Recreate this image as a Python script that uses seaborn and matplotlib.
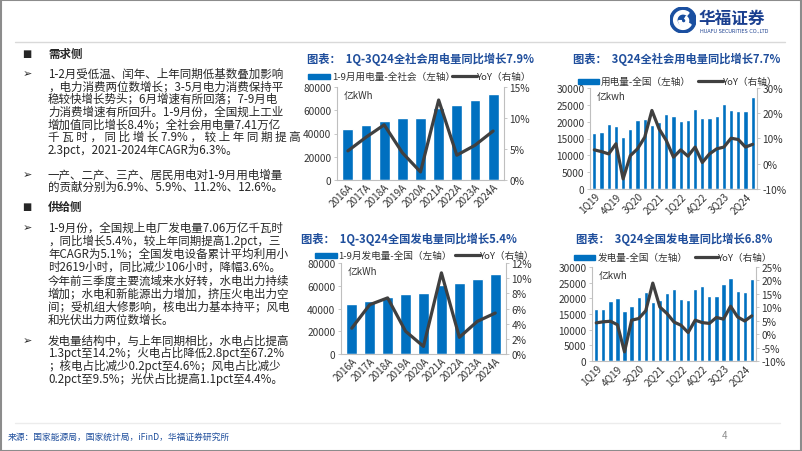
import numpy as np
import pandas as pd
import matplotlib
matplotlib.use("Agg")
import matplotlib.pyplot as plt
import seaborn as sns
from matplotlib.patches import Rectangle, Circle, Wedge
from matplotlib.lines import Line2D
from matplotlib.ticker import FuncFormatter

sns.set_style("white")
plt.rcParams['font.family'] = ['Noto Sans CJK SC', 'DejaVu Sans']
plt.rcParams['axes.unicode_minus'] = False

# ---------------- data ----------------
years = ['2016A', '2017A', '2018A', '2019A', '2020A', '2021A', '2022A', '2023A', '2024A']
cons_ytd = [43500, 46900, 50900, 53000, 53700, 61700, 64900, 68600, 74100]
cons_ytd_yoy = [4.7, 6.9, 8.9, 4.4, 1.3, 12.9, 4.0, 5.6, 7.9]
gen_ytd = [43800, 46800, 50300, 52700, 53800, 60300, 62600, 66200, 70600]
gen_ytd_yoy = [3.4, 6.5, 7.4, 3.0, 1.0, 10.7, 2.2, 4.3, 5.4]

quarters = ['1Q19', '2Q19', '3Q19', '4Q19', '1Q20', '2Q20', '3Q20', '4Q20',
            '1Q21', '2Q21', '3Q21', '4Q21', '1Q22', '2Q22', '3Q22', '4Q22',
            '1Q23', '2Q23', '3Q23', '4Q23', '1Q24', '2Q24', '3Q24']
cons_q = [16590, 16990, 19270, 18580, 15500, 17680, 20360, 20760,
          19070, 19870, 22150, 21650, 20160, 20360, 23740, 21160,
          20960, 21750, 25330, 23440, 23240, 23040, 27320]
cons_q_yoy = [5.5, 4.8, 3.9, 7.9, -6.0, 3.2, 5.9, 10.5,
              21.1, 13.8, 9.2, 2.6, 5.5, 3.0, 6.6, 0.5,
              3.9, 5.9, 6.6, 10.1, 9.6, 6.6, 7.7]
gen_q = [16650, 16750, 19190, 20150, 15800, 17710, 20470, 22060,
         18980, 19510, 21840, 23010, 19830, 19620, 23120, 23970,
         20680, 20890, 24500, 26620, 22380, 22060, 26190]
gen_q_yoy = [4.2, 4.6, 4.8, 3.5, -6.6, 5.2, 5.8, 8.7,
             19.0, 10.1, 7.7, 4.5, 3.3, 0.6, 5.2, 4.3,
             4.0, 6.2, 5.6, 10.4, 6.4, 4.9, 6.8]

titles = ['图表：  1Q-3Q24全社会用电量同比增长7.9%',
          '图表：  3Q24全社会用电量同比增长7.7%',
          '图表：  1Q-3Q24全国发电量同比增长5.4%',
          '图表：  3Q24全国发电量同比增长6.8%']
bar_labels = ['1-9月用电量-全社会（左轴）', '用电量-全国（左轴）',
              '1-9月发电量-全国（左轴）', '发电量-全国（左轴）']
line_label = 'YoY（右轴）'
units = ['亿kWh', '亿kwh', '亿kWh', '亿kwh']

# ---------------- figure ----------------
W, H = 802, 452
fig = plt.figure(figsize=(W / 100, H / 100), dpi=100)
fig.patch.set_facecolor('white')

def fx(x):
    return x / W

def fy(y):
    return 1 - y / H

BLUE = '#0070C0'
LINE = '#404040'
TITLE = '#1F4E9C'
TXT = '#262626'

# slide frame
fig.add_artist(Rectangle((0.001, 0.001), 0.998, 0.997, transform=fig.transFigure,
                         fill=False, edgecolor='#8c8c8c', linewidth=1.5))
# header separator & footer line
fig.add_artist(Line2D([fx(15), fx(785)], [fy(43), fy(43)], transform=fig.transFigure,
                      color='#d9d9d9', linewidth=1))
fig.add_artist(Line2D([fx(15), fx(780)], [fy(424), fy(424)], transform=fig.transFigure,
                      color='#ececec', linewidth=1))

# logo
logo_ax = fig.add_axes([fx(670), fy(34), fx(26), 26 / H])
logo_ax.set_xlim(-1, 1)
logo_ax.set_ylim(-1, 1)
logo_ax.set_aspect('equal')
logo_ax.axis('off')
logo_ax.add_patch(Circle((0, 0), 1.0, color='#1A4FA0'))
logo_ax.add_patch(Wedge((0, 0), 0.72, 50, 330, width=0.25, color='white'))
logo_ax.add_patch(Wedge((0.05, -0.05), 0.38, 180, 60, width=0.2, color='white'))
fig.text(fx(699), fy(19), '华福证券', fontsize=12, fontweight='bold', color='#1A3F8F',
         ha='left', va='center')
fig.text(fx(700), fy(31.5), 'HUAFU SECURITIES CO.,LTD', fontsize=3.6, color='#1A3F8F',
         ha='left', va='center', family='DejaVu Sans')

# ---------------- left text ----------------
FS = 8.3
TX = 48
def bullet(y, sym):
    fig.text(fx(27), fy(y), sym, fontsize=7 if sym == '■' else 8, color=TXT,
             ha='center', va='center', family='DejaVu Sans')

def line(y, s, bold=False):
    fig.text(fx(TX), fy(y), s, fontsize=FS, color=TXT, ha='left', va='center',
             fontweight='bold' if bold else 'normal')

bullet(54, '■'); line(54, '需求侧', bold=True)
bullet(74, '➢')
block1 = ['1-2月受低温、闰年、上年同期低基数叠加影响',
          '，电力消费两位数增长；3-5月电力消费保持平',
          '稳较快增长势头；6月增速有所回落；7-9月电',
          '力消费增速有所回升。1-9月份，全国规上工业',
          '增加值同比增长8.4%；全社会用电量7.41万亿',
          '千 瓦 时 ， 同 比 增 长 7.9% ， 较 上 年 同 期 提 高',
          '2.3pct，2021-2024年CAGR为6.3%。']
for i, s in enumerate(block1):
    line(74 + i * 12.7, s)
bullet(175, '➢')
line(175, '一产、二产、三产、居民用电对1-9月用电增量')
line(187.5, '的贡献分别为6.9%、5.9%、11.2%、12.6%。')
bullet(207, '■'); line(207, '供给侧', bold=True)
bullet(228, '➢')
block3 = ['1-9月份，全国规上电厂发电量7.06万亿千瓦时',
          '，同比增长5.4%，较上年同期提高1.2pct，三',
          '年CAGR为5.1%；全国发电设备累计平均利用小',
          '时2619小时，同比减少106小时，降幅3.6%。',
          '今年前三季度主要流域来水好转，水电出力持续',
          '增加；水电和新能源出力增加，挤压火电出力空',
          '间；受机组大修影响，核电出力基本持平；风电',
          '和光伏出力两位数增长。']
for i, s in enumerate(block3):
    line(228 + i * 13.2, s)
bullet(341, '➢')
block4 = ['发电量结构中，与上年同期相比，水电占比提高',
          '1.3pct至14.2%；火电占比降低2.8pct至67.2%',
          '；核电占比减少0.2pct至4.6%；风电占比减少',
          '0.2pct至9.5%；光伏占比提高1.1pct至4.4%。']
for i, s in enumerate(block4):
    line(341 + i * 12.8, s)

# footer
fig.text(fx(8), fy(437), '来源：国家能源局，国家统计局，iFinD，华福证券研究所', fontsize=6.3,
         color='#1F4E9C', ha='left', va='center', style='italic')
fig.text(fx(722), fy(436), '4', fontsize=7, color='#8c8c8c', ha='left', va='center')

# ---------------- charts ----------------
def make_chart(box, cats, bars, yoy, ylim, yticks, rlim, rticks, title, title_xy,
               leg, blabel, unit, every=1, bw=0.6):
    x0, x1, ytop, ybot = box
    ax = fig.add_axes([fx(x0), fy(ybot), fx(x1) - fx(x0), (ybot - ytop) / H])
    df = pd.DataFrame({'cat': cats, 'val': bars, 'yoy': yoy})
    sns.barplot(data=df, x='cat', y='val', color=BLUE, saturation=1, width=bw, ax=ax)
    ax.set_ylim(*ylim)
    ax.set_yticks(yticks)
    ax.set_xlim(-0.6, len(cats) - 0.4)
    ax.set_xlabel('')
    ax.set_ylabel('')
    ax.set_facecolor('none')
    for s in ['top', 'right']:
        ax.spines[s].set_visible(False)
    for s in ['left', 'bottom']:
        ax.spines[s].set_color('#bfbfbf')
        ax.spines[s].set_linewidth(0.8)
    ax.tick_params(axis='y', labelsize=7.3, colors='#bfbfbf', labelcolor='#333333',
                   length=2, width=0.6, pad=2)
    ax.tick_params(axis='x', length=0, labelsize=7.2, labelcolor='#333333', pad=1)
    pos = np.arange(len(cats))
    ax.set_xticks(pos[::every])
    ax.set_xticklabels(cats[::every], rotation=45, ha='right', rotation_mode='anchor')

    ax2 = ax.twinx()
    sns.lineplot(data=df.assign(pos=pos), x='pos', y='yoy', color=LINE, linewidth=2.3,
                 ax=ax2, sort=False)
    ax2.set_ylim(*rlim)
    ax2.set_yticks(rticks)
    ax2.yaxis.set_major_formatter(FuncFormatter(lambda v, p: f'{v:.0f}%'))
    ax2.set_ylabel('')
    ax2.set_xlim(ax.get_xlim())
    for s in ['top', 'left', 'bottom']:
        ax2.spines[s].set_visible(False)
    ax2.spines['right'].set_color('#bfbfbf')
    ax2.spines['right'].set_linewidth(0.8)
    ax2.tick_params(axis='y', labelsize=7.3, colors='#bfbfbf', labelcolor='#333333',
                    length=2, width=0.6, pad=2)

    ax.text(0.04, 0.97, unit, transform=ax.transAxes, fontsize=7, color='#333333',
            ha='left', va='top')

    fig.text(fx(title_xy[0]), fy(title_xy[1]), title, fontsize=8.1, fontweight='bold',
             color=TITLE, ha='left', va='center')
    ry, r0, r1, t0, l0, l1, t1 = leg
    fig.add_artist(Rectangle((fx(r0), fy(ry + 2.5)), fx(r1) - fx(r0), 5 / H,
                             transform=fig.transFigure, color=BLUE))
    fig.text(fx(t0), fy(ry), blabel, fontsize=6.9, color='#333333', ha='left', va='center')
    fig.add_artist(Line2D([fx(l0), fx(l1)], [fy(ry), fy(ry)], transform=fig.transFigure,
                          color=LINE, linewidth=2.3))
    fig.text(fx(t1), fy(ry), line_label, fontsize=6.9, color='#333333', ha='left', va='center')
    return ax, ax2

make_chart((337, 504, 88, 181), years, cons_ytd, cons_ytd_yoy,
           (0, 80000), [0, 20000, 40000, 60000, 80000], (0, 15), [0, 5, 10, 15],
           titles[0], (307, 59), (77, 308, 330, 332, 452, 477, 477), bar_labels[0], units[0])
make_chart((590, 757, 89, 190), quarters, cons_q, cons_q_yoy,
           (0, 30000), list(range(0, 30001, 5000)), (-10, 30), [-10, 0, 10, 20, 30],
           titles[1], (573, 59), (82, 578, 599, 601, 698, 723, 723), bar_labels[1], units[1],
           every=3)
make_chart((341, 506, 264, 355), years, gen_ytd, gen_ytd_yoy,
           (0, 80000), [0, 20000, 40000, 60000, 80000], (0, 12), [0, 2, 4, 6, 8, 10, 12],
           titles[2], (301, 239), (256, 315, 337, 338, 455, 480, 480), bar_labels[2], units[2])
make_chart((592, 756, 268, 362), quarters, gen_q, gen_q_yoy,
           (0, 30000), list(range(0, 30001, 5000)), (-10, 25), list(range(-10, 26, 5)),
           titles[3], (576, 239), (258, 574, 595, 598, 695, 718, 718), bar_labels[3], units[3],
           every=3)

fig.savefig('out.png', dpi=100, facecolor='white')
